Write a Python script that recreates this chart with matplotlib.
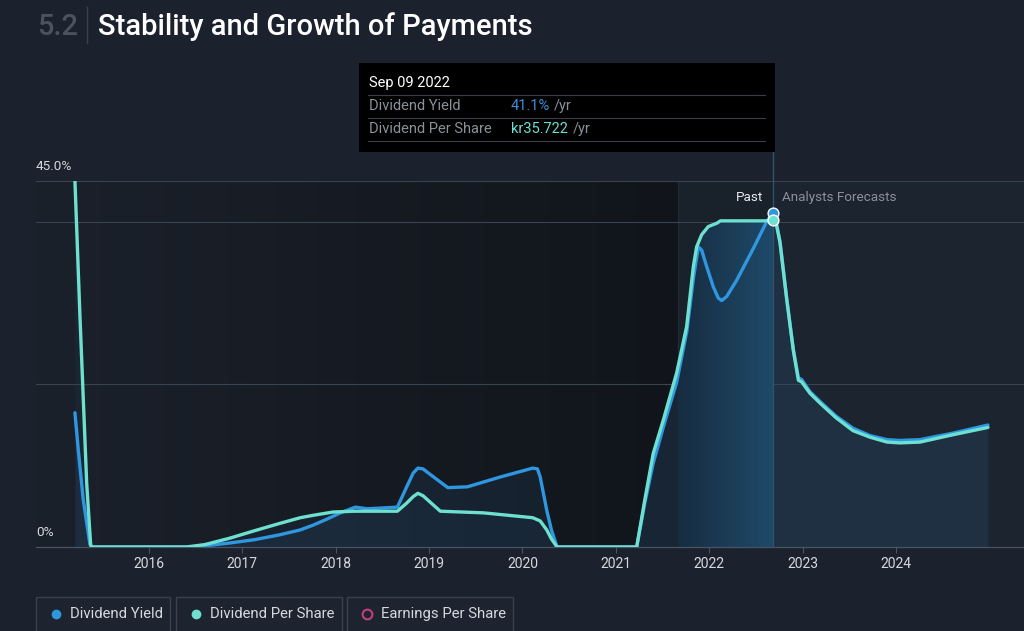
import numpy as np
import matplotlib.pyplot as plt
from matplotlib.patches import Rectangle

plt.rcParams['font.family'] = ['Roboto', 'DejaVu Sans']

# tick years
years = [2016, 2017, 2018, 2019, 2020, 2021, 2022, 2023, 2024]

# Dividend Yield (%)
yield_x = [2015.207, 2015.243, 2015.296, 2015.368, 2015.39, 2016.49, 2016.87, 2017.13,
           2017.40, 2017.62, 2017.76, 2017.90, 2018.05, 2018.21, 2018.34, 2018.66,
           2018.76, 2018.83, 2018.88, 2018.935, 2018.98, 2019.20, 2019.41, 2019.76,
           2020.11, 2020.16, 2020.19, 2020.26, 2020.31, 2020.37,
           2021.223, 2021.31, 2021.40, 2021.51, 2021.65, 2021.76, 2021.83, 2021.883,
           2021.919, 2021.972, 2022.043, 2022.097, 2022.133, 2022.187, 2022.294, 2022.472,
           2022.615, 2022.68, 2022.72, 2022.758, 2022.83, 2022.90, 2022.955, 2022.99,
           2023.079, 2023.186, 2023.357, 2023.54, 2023.722, 2023.904, 2024.043, 2024.257,
           2024.61, 2024.985]
yield_y = [16.5, 11.9, 5.8, 0.3, 0.0, 0.0, 0.5, 0.9,
           1.5, 2.1, 2.7, 3.4, 4.2, 4.9, 4.7, 4.9,
           7.4, 9.1, 9.7, 9.6, 9.2, 7.3, 7.4, 8.6,
           9.7, 9.6, 8.6, 4.5, 2.1, 0.0,
           0.0, 5.4, 10.3, 14.8, 20.2, 26.5, 33.0, 36.9,
           36.5, 34.5, 32.0, 30.6, 30.3, 30.8, 32.8, 36.7,
           40.0, 41.1, 39.8, 37.6, 30.6, 24.4, 20.8, 20.6,
           19.1, 17.9, 16.1, 14.6, 13.7, 13.2, 13.1, 13.2,
           14.0, 15.0]

# Dividend Per Share (scaled to the same axis)
dps_x = [2015.207, 2015.261, 2015.333, 2015.376, 2015.39, 2016.40, 2016.60, 2016.87,
         2017.13, 2017.40, 2017.62, 2017.76, 2017.97, 2018.20, 2018.66, 2018.76,
         2018.83, 2018.88, 2018.935, 2019.12, 2019.58, 2020.11, 2020.19, 2020.26,
         2020.31, 2020.37, 2021.223, 2021.31, 2021.40, 2021.508, 2021.651, 2021.758,
         2021.83, 2021.865, 2021.919, 2021.99, 2022.08, 2022.12, 2022.68, 2022.72,
         2022.758, 2022.83, 2022.90, 2022.955, 2022.99, 2023.079, 2023.186, 2023.357,
         2023.54, 2023.722, 2023.904, 2024.043, 2024.257, 2024.61, 2024.985]
dps_y = [45.0, 28.3, 7.8, 0.2, 0.0, 0.0, 0.3, 1.1,
         2.0, 2.9, 3.6, 3.9, 4.3, 4.4, 4.4, 5.4,
         6.2, 6.6, 6.3, 4.4, 4.2, 3.6, 3.2, 2.1,
         1.0, 0.0, 0.0, 5.8, 11.5, 15.6, 21.4, 27.1,
         34.5, 36.9, 38.4, 39.4, 39.8, 40.1, 40.1, 39.6,
         37.4, 30.4, 24.2, 20.5, 20.3, 18.9, 17.7, 15.9,
         14.3, 13.5, 12.9, 12.8, 12.9, 13.8, 14.7]

hover_x = 2022.68
hover_yield = 41.1
hover_dps = 40.2
band_start = 2021.67

BG = '#1b222d'
BLUE = '#2f96e0'
TEAL = '#6de0d0'
GRID = '#3a4350'
TXT = '#d5d9de'
GREY = '#8a919b'

fig = plt.figure(figsize=(10.24, 6.31), dpi=100, facecolor=BG)


def fx(px):
    return px / 1024


def fy(py):
    return 1 - py / 631


def hgrad(c_left, c_right, n=256):
    a = np.array([int(c_left[i:i + 2], 16) for i in (1, 3, 5)]) / 255
    b = np.array([int(c_right[i:i + 2], 16) for i in (1, 3, 5)]) / 255
    t = np.linspace(0, 1, n)[None, :, None]
    return a * (1 - t) + b * t


ax = fig.add_axes([fx(36), fy(547), fx(988), 366 / 631])
ax.set_facecolor(BG)
xmin, xmax = 2014.79, 2025.371
ax.set_xlim(xmin, xmax)
ax.set_ylim(0, 45)

# background shading: darkening toward 2021, highlight band, forecast area
ax.imshow(hgrad('#1b212b', '#11151b'), extent=[xmin, band_start, 0, 45], aspect='auto', zorder=0)
ax.axvspan(band_start, hover_x, color='#19212b', zorder=0.5, lw=0)
ax.axvspan(hover_x, xmax, color='#1c2430', zorder=0.5, lw=0)
ax.axvline(band_start, color='#232d39', lw=0.8, zorder=0.6)

# gridlines
for g in [20, 40, 45]:
    ax.axhline(g, color=GRID, lw=0.8, zorder=1)

# fills under lines
ax.fill_between(yield_x, yield_y, color='#25496b', alpha=0.22, lw=0, zorder=2)
ax.fill_between(dps_x, dps_y, color='#25496b', alpha=0.14, lw=0, zorder=2)
poly = ax.fill_between(dps_x, dps_y, color='none', lw=0)
im = ax.imshow(hgrad('#172c40', '#1e4a6a'), extent=[band_start, hover_x, 0, 45],
               aspect='auto', zorder=2.5)
im.set_clip_path(poly.get_paths()[0], ax.transData)
ax.set_xlim(xmin, xmax)
ax.set_ylim(0, 45)

# lines
ax.plot(yield_x, yield_y, color=BLUE, lw=2.4, solid_joinstyle='round',
        solid_capstyle='round', zorder=4)
ax.plot(dps_x, dps_y, color=TEAL, lw=2.4, solid_joinstyle='round',
        solid_capstyle='round', zorder=5)

# hover line and dots
ax.plot([hover_x, hover_x], [0, 48.6], color='#34506a', lw=1, zorder=3, clip_on=False)
ax.scatter([hover_x], [hover_yield], s=60, color=BLUE, edgecolor='white', lw=1, zorder=7)
ax.scatter([hover_x], [hover_dps], s=60, color=TEAL, edgecolor='white', lw=1, zorder=8)

ax.text(hover_x - 0.1, 43.0, 'Past', color='#e8ebee', fontsize=9.7, ha='right', va='center', zorder=9)
ax.text(hover_x + 0.1, 43.0, 'Analysts Forecasts', color=GREY, fontsize=9.7, ha='left', va='center', zorder=9)

# axes styling
for s in ['top', 'right', 'left']:
    ax.spines[s].set_visible(False)
ax.spines['bottom'].set_color('#4a5361')
ax.spines['bottom'].set_linewidth(0.9)
ax.set_yticks([])
ax.set_xticks(years)
ax.set_xticklabels([str(y) for y in years])
ax.tick_params(axis='x', colors='#4a5361', labelcolor=TXT, labelsize=10, length=4, pad=3)

fig.text(fx(36), fy(167), '45.0%', color=TXT, fontsize=9.7, va='center', ha='left')
fig.text(fx(36), fy(533), '0%', color=TXT, fontsize=9.7, va='center', ha='left')

# title
fig.text(fx(37), fy(35), '5.2', color='#4b5360', fontsize=21, va='baseline', ha='left', fontweight='medium')
fig.add_artist(plt.Line2D([fx(87), fx(87)], [fy(7), fy(43)], color='#3a4250', lw=1))
fig.text(fx(98), fy(35), 'Stability and Growth of Payments', color='white', fontsize=21,
         va='baseline', ha='left', fontweight='medium')

# tooltip
fig.patches.append(Rectangle((fx(359), fy(152)), fx(416), 89 / 631, transform=fig.transFigure,
                             facecolor='black', edgecolor='none', zorder=10))
for ly in [95, 118, 141]:
    fig.add_artist(plt.Line2D([fx(368), fx(765)], [fy(ly), fy(ly)], color='#3a3f46', lw=0.8, zorder=11))
fig.text(fx(369), fy(83), 'Sep 09 2022', color='white', fontsize=10.5, va='center', zorder=12)
fig.text(fx(369), fy(106), 'Dividend Yield', color=GREY, fontsize=10.5, va='center', zorder=12)
fig.text(fx(369), fy(129), 'Dividend Per Share', color=GREY, fontsize=10.5, va='center', zorder=12)
fig.text(fx(511), fy(106), f'{hover_yield}%', color='#3c8fd8', fontsize=10.5, va='center', zorder=12)
fig.text(fx(511), fy(129), 'kr35.722', color=TEAL, fontsize=10.5, va='center', zorder=12)
fig.text(fx(554), fy(106), '/yr', color=GREY, fontsize=10.5, va='center', zorder=12)
fig.text(fx(573), fy(129), '/yr', color=GREY, fontsize=10.5, va='center', zorder=12)

# legend buttons
legend_items = [('Dividend Yield', 36, 170, BLUE, True),
                ('Dividend Per Share', 176, 342, TEAL, True),
                ('Earnings Per Share', 347, 513, '#c0407f', False)]
for label, x0, x1, col, filled in legend_items:
    fig.patches.append(Rectangle((fx(x0), fy(640)), fx(x1 - x0), 43 / 631, transform=fig.transFigure,
                                 facecolor='#1d2430', edgecolor='#3a4250', lw=1))
    fig.add_artist(plt.Line2D([fx(x0 + 20)], [fy(614)], marker='o', markersize=7,
                              markerfacecolor=col if filled else 'none',
                              markeredgecolor=col, markeredgewidth=1.5 if not filled else 0))
    fig.text(fx(x0 + 34), fy(614), label, color=TXT, fontsize=10.7, va='center', ha='left')

fig.savefig('out.png', dpi=100, facecolor=BG)
